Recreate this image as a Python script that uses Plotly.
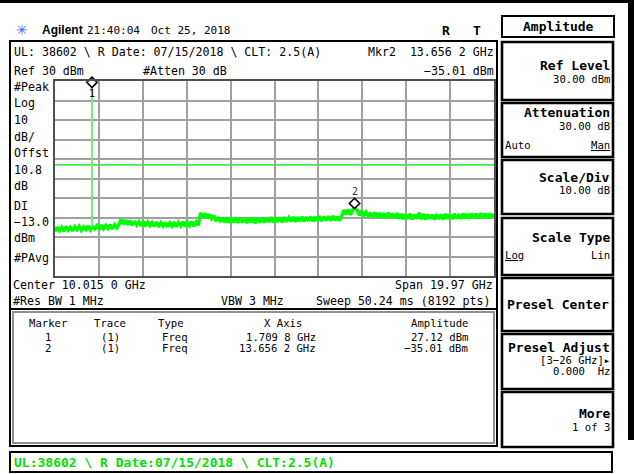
import numpy as np
import plotly.graph_objects as go

W, H = 634, 474

# ---------------- instrument settings / data ----------------
center_ghz = 10.015
span_ghz = 19.97
ref_level_dbm = 30
scale_db_div = 10
n_div = 10
display_line_dbm = -13.0

# trace amplitude samples (dBm), evenly spaced over the span
trace_dbm = [
    -47.2, -44.9, -46.8, -45.0, -47.0, -44.6, -46.5, -45.1, -46.9, -44.7,
    -46.3, -44.5, -46.6, -44.8, -46.2, -44.3, -46.4, -44.6, -45.9, -44.2,
    -46.1, -43.9, -45.8, -44.1, -45.6, -43.7, -45.9, -43.8, -45.3, -43.6,
    -41.0, -43.4, -41.3, -43.6, -41.7, -44.0, -41.9, -43.9, -42.2, -44.3,
    -42.0, -44.5, -42.4, -44.2, -42.6, -44.6, -42.3, -44.8, -42.7, -44.4,
    -42.5, -44.9, -42.8, -44.5, -42.4, -44.7, -42.6, -44.3, -42.2, -44.6,
    -42.5, -44.2, -42.1, -44.5, -42.3, -44.0,
    -37.6, -40.0, -37.9, -40.3, -38.4, -40.6, -39.0,
    -41.8, -39.9, -42.3, -40.2, -42.5, -40.0, -42.6, -40.4, -42.4, -40.1,
    -42.7, -40.3, -42.5, -40.6, -42.8, -40.2, -42.4, -40.5, -42.9, -40.3,
    -42.5, -40.1, -42.6, -40.4, -42.3, -39.8, -42.5, -40.2, -42.2, -40.0,
    -42.4, -39.9, -42.1, -40.1, -42.0, -39.7, -42.2, -39.9, -41.9, -39.6,
    -42.0, -39.8, -41.7, -39.5, -41.9, -39.7, -41.6, -39.3, -41.8, -39.6,
    -41.5, -39.4, -41.7, -39.2, -41.4, -39.5, -41.6, -39.3,
    -36.2, -38.4, -35.8, -38.7, -36.0, -35.4, -36.3, -38.9, -36.6, -38.8,
    -37.2, -39.6, -37.5, -39.8, -37.4, -40.0, -37.7, -39.9, -37.9, -40.2,
    -37.6, -40.1, -38.0, -40.4, -37.8,
    -40.6, -38.2, -40.8, -38.4, -40.7, -38.1, -40.9, -38.5, -40.6, -37.6,
    -40.8, -38.3, -41.0, -38.4, -40.7, -38.6, -41.1, -38.3, -40.8, -38.5,
    -40.9, -38.2, -40.6, -38.4, -40.8, -38.1, -40.5, -38.3, -40.7, -38.0,
    -40.4, -38.2, -40.6, -37.9, -40.3, -38.1, -40.5, -37.8, -40.2, -38.0,
    -40.4, -37.9, -40.1, -38.2,
]

peak_freq_ghz = 1.7098
peak_amp_dbm = 27.12

marker_ids = ["1", "2"]
marker_freq_ghz = [1.7098, 13.6562]
marker_amp_dbm = [27.12, -35.01]

# ---------------- derived ----------------
f_start = center_ghz - span_ghz / 2
f_stop = center_ghz + span_ghz / 2
freq_ghz = np.linspace(f_start, f_stop, len(trace_dbm))
y_bottom = ref_level_dbm - scale_db_div * n_div
peak_idx = int(np.argmin(np.abs(freq_ghz - peak_freq_ghz)))
peak_floor = trace_dbm[peak_idx]


def fmt_ghz(f):
    s = f"{f:.4f}"
    return s[:-1] + "\u00a0" + s[-1] + "\u00a0GHz"


def fmt_dbm(a):
    return f"{a:.2f}".replace("-", "\u2212") + "\u00a0dBm"


# graticule pixel box
GX0, GX1, GY0, GY1 = 55, 494, 81, 276

MONO = "DejaVu Sans Mono"
SANS = "Liberation Sans"


def X(px):
    return px / W


def Y(py):
    return 1 - py / H


fig = go.Figure()

fig.add_trace(go.Scatter(
    x=freq_ghz, y=trace_dbm, mode="lines",
    line=dict(color="#00ff00", width=3.4), hoverinfo="skip"))
fig.add_trace(go.Scatter(
    x=[peak_freq_ghz, peak_freq_ghz], y=[peak_floor, peak_amp_dbm], mode="lines",
    line=dict(color="#70ee70", width=2), hoverinfo="skip"))
# marker diamonds drawn just above the marked points
fig.add_trace(go.Scatter(
    x=marker_freq_ghz, y=[a + 2.2 for a in marker_amp_dbm], mode="markers",
    marker=dict(symbol="diamond-open", size=8, color="black",
                line=dict(color="black", width=1.6)),
    cliponaxis=False, hoverinfo="skip"))

shapes = []


def rect(x0, y0, x1, y1, color="black", width=2, fill=None):
    d = dict(type="rect", xref="paper", yref="paper",
             x0=X(x0), x1=X(x1), y0=Y(y1), y1=Y(y0),
             line=dict(color=color, width=width), layer="above")
    if fill:
        d["fillcolor"] = fill
    shapes.append(d)


# display line
shapes.append(dict(type="line", xref="x", yref="y", x0=f_start, x1=f_stop,
                   y0=display_line_dbm, y1=display_line_dbm,
                   line=dict(color="#44ee44", width=1.6), layer="below"))

# outer black edges of the screenshot
rect(0, 0, 634, 3, width=0, fill="black")
rect(628, 0, 634, 440, width=0, fill="black")
# main screen frame
rect(10, 41, 497, 446, width=2)
# marker table box
shapes.append(dict(type="line", xref="paper", yref="paper", x0=X(10), x1=X(497),
                   y0=Y(309), y1=Y(309), line=dict(color="black", width=2)))
rect(13, 312, 494, 443, color="#909090", width=2)
# status bar
rect(10, 452, 612, 472, width=2)
# softkeys
rect(502, 16, 614, 37, width=2)
soft_boxes = [(42, 100), (103, 157), (160, 214), (218, 275), (278, 331), (334, 389), (392, 447)]
for y0, y1 in soft_boxes:
    rect(502, y0, 613, y1, width=2.6)

ann = []


def txt(x, y, s, anchor="left", size=11.6, bold=False, color="black", family=MONO):
    if bold:
        s = "<b>" + s + "</b>"
    ann.append(dict(xref="paper", yref="paper", x=X(x), y=Y(y), text=s,
                    showarrow=False, xanchor=anchor, yanchor="middle",
                    font=dict(family=family, size=size, color=color), borderpad=0))


# header
txt(15, 30, "\u2733", size=14, color="#4f5cff", family="DejaVu Sans")
txt(41, 30, "Agilent", size=12, bold=True, family=SANS)
txt(86, 30, "21:40:04", size=11)
txt(150, 30, "Oct\u00a025,\u00a02018", size=11)
txt(446, 31, "R", size=13, bold=True, anchor="center")
txt(477, 31, "T", size=13, bold=True, anchor="center")
txt(558, 27, "Amplitude", size=13, bold=True, anchor="center")

# top info
txt(13, 52, "UL:\u00a038602\u00a0\\\u00a0R\u00a0Date:\u00a007/15/2018\u00a0\\\u00a0CLT:\u00a02.5(A)")
txt(495, 52, "Mkr2\u00a0\u00a0" + fmt_ghz(marker_freq_ghz[1]), anchor="right")
txt(495, 71, fmt_dbm(marker_amp_dbm[1]), anchor="right")
txt(13, 71, f"Ref\u00a0{ref_level_dbm}\u00a0dBm")
txt(142, 71, "#Atten\u00a030\u00a0dB")

# left panel
left_labels = [("#Peak", 87), ("Log", 103), ("10", 120), ("dB/", 137), ("Offst", 153),
               ("10.8", 170), ("dB", 186), ("DI", 206), ("\u221213.0", 222),
               ("dBm", 238), ("#PAvg", 258)]
for s, yy in left_labels:
    txt(13, yy, s)

# bottom info
txt(12, 285, f"Center\u00a0{center_ghz:.3f}\u00a00\u00a0GHz")
txt(494, 285, f"Span\u00a0{span_ghz:.2f}\u00a0GHz", anchor="right")
txt(12, 301, "#Res\u00a0BW\u00a01\u00a0MHz")
txt(220, 301, "VBW\u00a03\u00a0MHz")
txt(492, 301, "Sweep\u00a050.24\u00a0ms\u00a0(8192\u00a0pts)", anchor="right")

# marker table
TS = 10.6
txt(48, 323, "Marker", anchor="center", size=TS)
txt(110, 323, "Trace", anchor="center", size=TS)
txt(157, 323, "Type", size=TS)
txt(283, 323, "X\u00a0Axis", anchor="center", size=TS)
txt(469, 323, "Amplitude", anchor="right", size=TS)
for k, (mid, mf, ma) in enumerate(zip(marker_ids, marker_freq_ghz, marker_amp_dbm)):
    yy = 337 + 11 * k
    txt(48, yy, mid, anchor="center", size=TS)
    txt(110, yy, "(1)", anchor="center", size=TS)
    txt(161, yy, "Freq", size=TS)
    txt(317, yy, fmt_ghz(mf), anchor="right", size=TS)
    txt(469, yy, fmt_dbm(ma), anchor="right", size=TS)

# marker labels on screen
ann.append(dict(xref="x", yref="y", x=marker_freq_ghz[0], y=marker_amp_dbm[0], text=marker_ids[0],
                showarrow=False, yshift=-7, font=dict(family=MONO, size=10, color="black")))
ann.append(dict(xref="x", yref="y", x=marker_freq_ghz[1], y=marker_amp_dbm[1], text=marker_ids[1],
                showarrow=False, yshift=16, font=dict(family=MONO, size=10, color="#333333")))

# softkey texts
R = 611
BS = 13
VS = 10.6
txt(R, 66, "Ref\u00a0Level", anchor="right", size=BS, bold=True)
txt(R, 79, "30.00\u00a0dBm", anchor="right", size=VS)
txt(R, 113, "Attenuation", anchor="right", size=BS, bold=True)
txt(R, 126, "30.00\u00a0dB", anchor="right", size=VS)
txt(504, 145, "Auto", size=VS)
txt(R, 145, "<u>Man</u>", anchor="right", size=VS)
txt(R, 177, "Scale/Div", anchor="right", size=BS, bold=True)
txt(R, 190, "10.00\u00a0dB", anchor="right", size=VS)
txt(R, 237, "Scale\u00a0Type", anchor="right", size=BS, bold=True)
txt(504, 255, "<u>Log</u>", size=VS)
txt(R, 255, "Lin", anchor="right", size=VS)
txt(558, 304, "Presel\u00a0Center", anchor="center", size=BS, bold=True)
txt(R, 347, "Presel\u00a0Adjust", anchor="right", size=BS, bold=True)
txt(R, 360, "[3\u221226\u00a0GHz]\u25b8", anchor="right", size=VS)
txt(R, 371, "0.000\u00a0\u00a0Hz", anchor="right", size=VS)
txt(R, 413, "More", anchor="right", size=BS, bold=True)
txt(R, 427, "1\u00a0of\u00a03", anchor="right", size=VS)

# status bar
txt(13, 462, "UL:38602\u00a0\\\u00a0R\u00a0Date:07/15/2018\u00a0\\\u00a0CLT:2.5(A)",
    size=13, bold=True, color="#00e000")

fig.update_layout(
    width=W, height=H,
    margin=dict(l=0, r=0, t=0, b=0),
    paper_bgcolor="white", plot_bgcolor="white",
    showlegend=False,
    shapes=shapes, annotations=ann,
    xaxis=dict(domain=[GX0 / W, GX1 / W], range=[f_start, f_stop],
               tick0=f_start, dtick=span_ghz / n_div,
               showgrid=True, gridcolor="#a0a0a0", gridwidth=1.7,
               showline=True, mirror=True, linecolor="#505050", linewidth=1.6,
               showticklabels=False, ticks="", zeroline=False, fixedrange=True),
    yaxis=dict(domain=[1 - GY1 / H, 1 - GY0 / H], range=[y_bottom, ref_level_dbm],
               tick0=ref_level_dbm, dtick=scale_db_div,
               showgrid=True, gridcolor="#a0a0a0", gridwidth=1.7,
               showline=True, mirror=True, linecolor="#505050", linewidth=1.6,
               showticklabels=False, ticks="", zeroline=False, fixedrange=True),
)

fig.write_html("out.html", config={"displayModeBar": False},
               post_script="document.body.style.margin='0';document.body.style.overflow='hidden';")
